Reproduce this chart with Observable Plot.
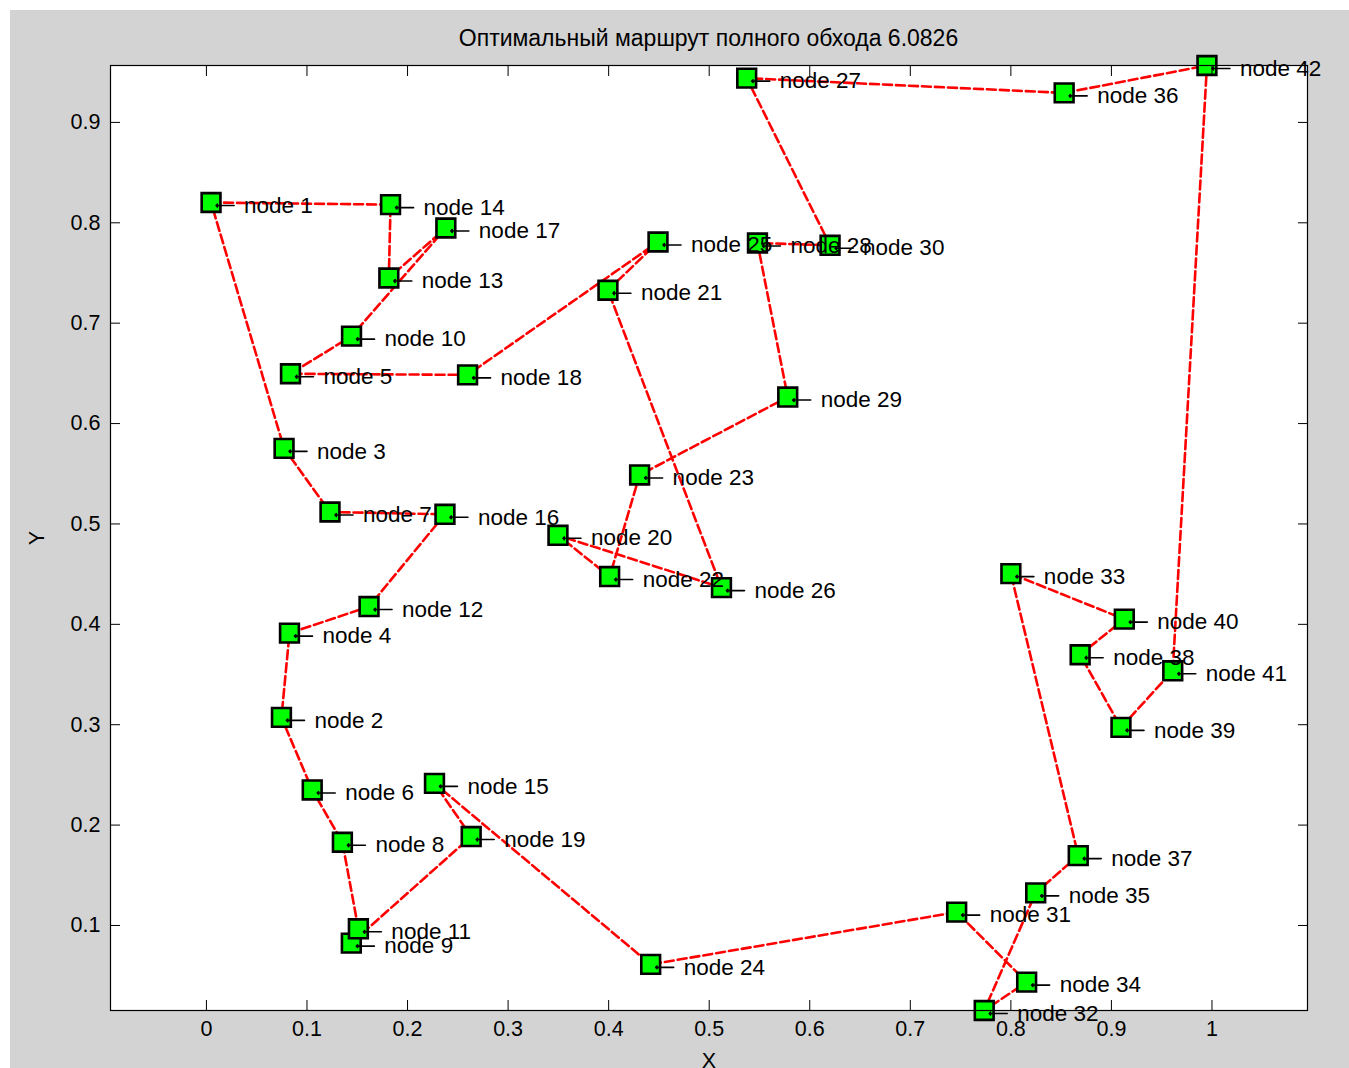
<!DOCTYPE html>
<html>
<head>
<meta charset="utf-8">
<script src="https://cdn.jsdelivr.net/npm/d3@7"></script>
<script src="https://cdn.jsdelivr.net/npm/@observablehq/plot@0.6"></script>
<style>
  html, body { margin: 0; padding: 0; background: #ffffff; }
  #fig {
    position: absolute; left: 10px; top: 10px; width: 1339px; height: 1058px;
    background: #d3d3d3; overflow: hidden;
    font-family: "Liberation Sans", Arial, sans-serif; color: #000;
  }
  #title {
    box-sizing: border-box; height: 45px; padding-top: 15px; line-height: 26px;
    margin-left: 100px; width: 1197px; text-align: center; font-size: 23px;
  }
  #chart svg { display: block; }
</style>
</head>
<body>
<div id="fig">
  <div id="title"></div>
  <div id="chart"></div>
</div>
<script>
// ---- data ----
const titleText = "Оптимальный маршрут полного обхода 6.0826";
const nodeIds = [1,2,3,4,5,6,7,8,9,10,11,12,13,14,15,16,17,18,19,20,21,22,23,24,25,26,27,28,29,30,31,32,33,34,35,36,37,38,39,40,41,42];
const nodeX = [0.0046,0.0746,0.0772,0.0826,0.0836,0.1052,0.1229,0.1352,0.1441,0.1443,0.1511,0.1617,0.1814,0.1831,0.2268,0.2372,0.2381,0.2597,0.2633,0.3496,0.3993,0.4010,0.4308,0.4418,0.4491,0.5122,0.5373,0.5480,0.5781,0.6202,0.7461,0.7735,0.8000,0.8157,0.8247,0.8530,0.8670,0.8689,0.9095,0.9128,0.9610,0.9950];
const nodeY = [0.8202,0.3073,0.5753,0.3912,0.6496,0.2350,0.5119,0.1829,0.0824,0.6871,0.0967,0.4177,0.7450,0.8181,0.2416,0.5096,0.7948,0.6485,0.1886,0.4887,0.7328,0.4476,0.5488,0.0612,0.7809,0.4366,0.9441,0.7799,0.6264,0.7776,0.1133,0.0153,0.4505,0.0436,0.1325,0.9294,0.1696,0.3697,0.2973,0.4052,0.3537,0.9567];
const route = [1,14,13,17,10,5,18,25,21,26,20,22,23,29,28,30,27,36,42,41,39,38,40,33,37,35,32,34,31,24,15,19,9,11,8,6,2,4,12,16,7,3,1];
const xTicks = [0,0.1,0.2,0.3,0.4,0.5,0.6,0.7,0.8,0.9,1];
const yTicks = [0.1,0.2,0.3,0.4,0.5,0.6,0.7,0.8,0.9];
const labelPrefix = "node ";
const xLabel = "X";
const yLabel = "Y";

// ---- build ----
document.getElementById("title").textContent = titleText;
const nodes = nodeIds.map((id, i) => ({id, x: nodeX[i], y: nodeY[i]}));
const byId = new Map(nodes.map(d => [d.id, d]));
const path = route.map(id => byId.get(id));
const [xmin, xmax] = d3.extent(nodeX);
const FS = 22.5;
const TFS = 21.5;

const chart = Plot.plot({
  width: 1339,
  height: 1013,
  marginLeft: 100,
  marginRight: 42,
  marginTop: 10,
  marginBottom: 58,
  style: {background: "transparent", fontFamily: "Liberation Sans, Arial, sans-serif", fontSize: TFS + "px", color: "#000", overflow: "visible"},
  x: {domain: [xmin - 0.1, xmax + 0.1]},
  y: {domain: d3.extent(nodeY)},
  marks: [
    Plot.frame({fill: "white"}),
    Plot.line(path, {x: "x", y: "y", stroke: "#ff0000", strokeWidth: 2.6, strokeDasharray: "9,4"}),
    Plot.dot(nodes, {x: "x", y: "y", symbol: "square", r: 10.6, fill: "#00ff00", stroke: "#000", strokeWidth: 2.6}),
    // the "←" pointer of each label
    Plot.vector(nodes, {x: "x", y: "y", length: 18, rotate: 270, anchor: "end", dx: 5, dy: 3, shape: "arrow", r: 1.3, stroke: "#000", strokeWidth: 1.6}),
    Plot.text(nodes, {x: "x", y: "y", text: d => labelPrefix + d.id, textAnchor: "start", dx: 33, dy: 3, fontSize: FS, fill: "#000"}),
    // inward ticks on all four sides
    Plot.axisX(xTicks, {anchor: "bottom", tickSize: -10, fill: "none", label: null, stroke: "#000"}),
    Plot.axisX(xTicks, {anchor: "top", tickSize: -10, fill: "none", label: null, stroke: "#000"}),
    Plot.axisY(yTicks, {anchor: "left", tickSize: -10, fill: "none", label: null, stroke: "#000"}),
    Plot.axisY(yTicks, {anchor: "right", tickSize: -10, fill: "none", label: null, stroke: "#000"}),
    // tick labels and axis titles
    Plot.axisX(xTicks, {anchor: "bottom", tickSize: 0, tickPadding: 10, tickFormat: d => `${d}`, fontSize: TFS, fill: "#000",
      label: xLabel, labelAnchor: "center", labelOffset: 57, labelArrow: "none"}),
    Plot.axisY(yTicks, {anchor: "left", tickSize: 0, tickPadding: 10, tickFormat: d => `${d}`, fontSize: TFS, fill: "#000",
      label: yLabel, labelAnchor: "center", labelOffset: 82, labelArrow: "none"}),
    Plot.frame({stroke: "#000", strokeWidth: 1.2})
  ]
});
document.getElementById("chart").appendChild(chart);
</script>
</body>
</html>
